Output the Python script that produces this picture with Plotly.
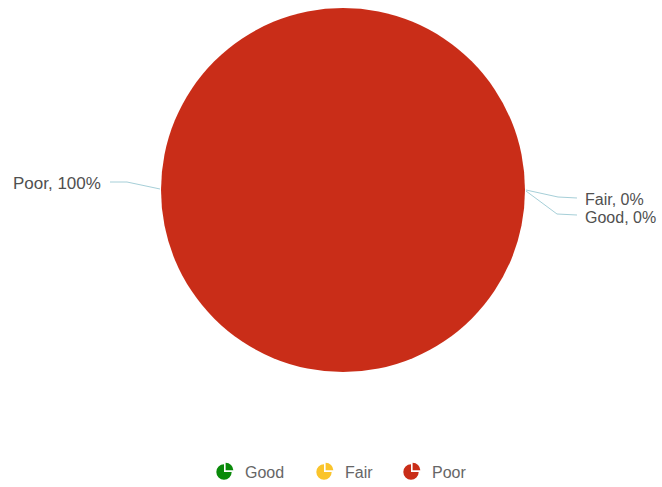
import plotly.graph_objects as go

# ---- data ----
categories = ["Good", "Fair", "Poor"]
values = [0, 0, 100]
colors = ["#0a8a0a", "#fac42b", "#c92d18"]

W, H = 662, 487
FONT = "Liberation Sans, Arial, sans-serif"


def px(x, y):
    return x / W, 1 - y / H


total = sum(values)
pcts = [round(v * 100 / total) for v in values]
label_text = {c: f"{c}, {p}%" for c, p in zip(categories, pcts)}

fig = go.Figure()

# main pie
cx, cy, r = 343, 190, 182
x0, y1 = px(cx - r, cy - r)
x1, y0 = px(cx + r, cy + r)
fig.add_trace(go.Pie(
    labels=categories, values=values, sort=False, direction="clockwise",
    marker=dict(colors=colors, line=dict(width=0)),
    textinfo="none", hoverinfo="label+percent", showlegend=False,
    domain=dict(x=[x0, x1], y=[y0, y1]),
))

# outside labels with leader lines
label_layout = {
    "Poor": dict(path=[(160, 189), (127, 182), (110, 182)], tx=102, ty=183, anchor="right", size=17),
    "Fair": dict(path=[(526, 190), (558, 197), (577, 198)], tx=584, ty=199, anchor="left", size=16),
    "Good": dict(path=[(526, 191), (557, 214), (577, 215)], tx=584, ty=217, anchor="left", size=16),
}
shapes = []
annotations = []
for c in categories:
    L = label_layout[c]
    pts = [px(*p) for p in L["path"]]
    d = "M " + " L ".join(f"{a:.5f},{b:.5f}" for a, b in pts)
    shapes.append(dict(type="path", xref="paper", yref="paper", path=d,
                       line=dict(color="#a6cfd8", width=1)))
    ax, ay = px(L["tx"], L["ty"])
    annotations.append(dict(xref="paper", yref="paper", x=ax, y=ay, text=label_text[c],
                            showarrow=False, xanchor=L["anchor"], yanchor="middle",
                            borderpad=0,
                            font=dict(family=FONT, size=L["size"], color="#505050")))

# custom legend (pie-shaped icons)
ICON_SHAPE = [1, 3]
legend_pos = {"Good": 224, "Fair": 324, "Poor": 411}
ly = 472
for c, col in zip(categories, colors):
    ix = legend_pos[c]
    s = 10
    a0, b1 = px(ix - s, ly - s)
    a1, b0 = px(ix + s, ly + s)
    fig.add_trace(go.Pie(
        values=ICON_SHAPE, sort=False, direction="clockwise", rotation=0,
        pull=[0.3, 0], marker=dict(colors=[col, col], line=dict(color="white", width=0)),
        textinfo="none", hoverinfo="skip", showlegend=False,
        domain=dict(x=[a0, a1], y=[b0, b1]),
    ))
    tx, ty = px(ix + 19, ly)
    annotations.append(dict(xref="paper", yref="paper", x=tx, y=ty, text=c, showarrow=False,
                            xanchor="left", yanchor="middle",
                            font=dict(family=FONT, size=16, color="#666666")))

fig.update_layout(
    width=W, height=H, margin=dict(l=0, r=0, t=0, b=0),
    paper_bgcolor="white", plot_bgcolor="white",
    shapes=shapes, annotations=annotations, showlegend=False,
)

fig.write_html("out.html")
